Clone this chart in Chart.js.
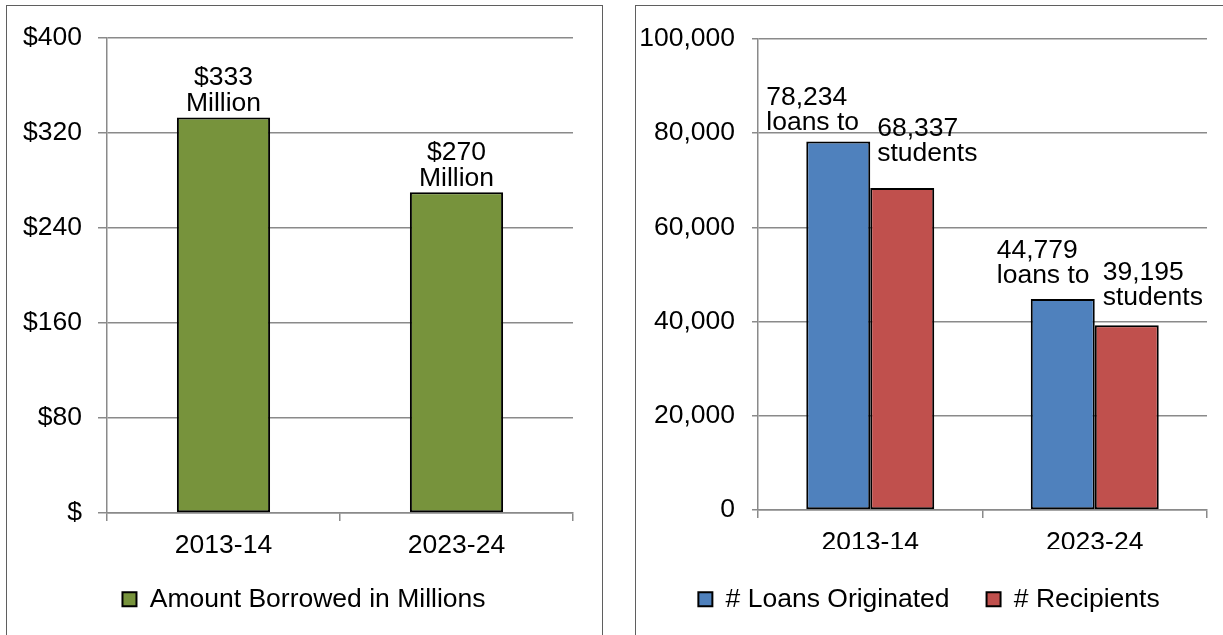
<!DOCTYPE html>
<html><head><meta charset="utf-8">
<script src="https://cdn.jsdelivr.net/npm/chart.js@4.4.1/dist/chart.umd.min.js"></script>
<style>
html,body{margin:0;padding:0;background:#fff;width:1223px;height:635px;overflow:hidden;}
.frame{position:absolute;border:1px solid #5f5f5f;box-sizing:border-box;}
canvas{position:absolute;}
</style></head><body>
<div class="frame" style="left:6px;top:5px;width:597px;height:700px;"></div>
<div class="frame" style="left:635px;top:5px;width:700px;height:700px;"></div>
<canvas id="c1" width="594" height="629" style="left:7px;top:6px;width:594px;height:629px"></canvas>
<canvas id="c2" width="586" height="629" style="left:636px;top:6px;width:586px;height:629px"></canvas>
<script>
// ---- data ----
const categories = ['2013-14', '2023-24'];
const amountBorrowed = [333, 270];
const loansOriginated = [78234, 44779];
const recipients = [68337, 39195];
const amountTicks = ['$', '$80', '$160', '$240', '$320', '$400'];
const countTicks = ['0', '20,000', '40,000', '60,000', '80,000', '100,000'];
const amountSeriesName = 'Amount Borrowed in Millions';
const loansSeriesName = '# Loans Originated';
const recipientsSeriesName = '# Recipients';
const loansWord = 'loans to';
const studentsWord = 'students';
const millionWord = 'Million';

// ---- styles / layout ----
const FONT = 'Liberation Sans, Arial, sans-serif';
const FS = 26.5;
const GREEN = '#77933C', BLUE = '#4F81BD', RED = '#C0504D';
const GRID = '#8a8a8a';
// label nudges: [dx from bar left, baseline of last line above bar top]
const loansNudge = [[-40, 11], [-34, 16]];
const recipNudge = [[7, 27], [8, 20]];

Chart.defaults.font.family = FONT;
Chart.defaults.font.size = FS;
Chart.defaults.color = '#000';
Chart.defaults.animation = false;

const barLabels = {
  id: 'barLabels',
  afterDatasetsDraw(chart, args, opts) {
    const ctx = chart.ctx;
    ctx.save();
    ctx.font = FS + 'px ' + FONT;
    ctx.fillStyle = '#000';
    ctx.textBaseline = 'alphabetic';
    chart.data.datasets.forEach((ds, di) => {
      const meta = chart.getDatasetMeta(di);
      meta.data.forEach((bar, i) => {
        const lines = opts.lines(di, i, ds.data[i]);
        const p = bar.getProps(['x', 'y', 'width'], true);
        const n = opts.nudge(di, i);
        ctx.textAlign = opts.align;
        const ax = opts.align === 'center' ? p.x + n[0] : p.x - p.width / 2 + n[0];
        let by = p.y - n[1];
        for (let k = lines.length - 1; k >= 0; k--) {
          ctx.fillText(lines[k], ax, by);
          by -= opts.lineGap;
        }
      });
    });
    ctx.restore();
  }
};

function yScale(max, step, labels, width, tickLen, pad) {
  return {
    min: 0, max: max,
    ticks: { stepSize: step, callback: (v, i) => labels[i], padding: pad, color: '#000' },
    grid: { color: GRID, lineWidth: 1.5, tickLength: tickLen },
    border: { color: GRID, width: 1.5 },
    afterFit(s) { s.width = width; }
  };
}
function spacer(width) {
  return {
    type: 'linear', position: 'right', display: true,
    grid: { display: false, drawTicks: false }, border: { display: false },
    ticks: { display: false },
    afterFit(s) { s.width = width; }
  };
}
function xScale(height, pad) {
  return {
    grid: { offset: true, drawOnChartArea: false, tickLength: 8, color: GRID, lineWidth: 1.5 },
    border: { color: GRID, width: 1.5 },
    ticks: { padding: pad, color: '#000' },
    afterFit(s) { s.height = height; }
  };
}

new Chart(document.getElementById('c1'), {
  type: 'bar',
  data: {
    labels: categories,
    datasets: [{
      label: amountSeriesName, data: amountBorrowed,
      backgroundColor: GREEN, borderColor: '#000', borderWidth: 2, borderSkipped: false,
      barPercentage: 0.4, categoryPercentage: 1
    }]
  },
  options: {
    responsive: false,
    layout: { padding: { left: 0, right: 0, top: 28, bottom: 12.5 } },
    scales: { y: yScale(400, 80, amountTicks, 100, 9, 16), yR: spacer(28), x: xScale(55, 9) },
    plugins: {
      legend: { position: 'bottom', labels: { boxWidth: 14, boxHeight: 14, padding: 18, color: '#000' } },
      tooltip: { enabled: false },
      barLabels: {
        align: 'center', lineGap: 26,
        lines: (di, i, v) => ['$' + v, millionWord],
        nudge: (di, i) => [0, 6]
      }
    }
  },
  plugins: [barLabels]
});

new Chart(document.getElementById('c2'), {
  type: 'bar',
  data: {
    labels: categories,
    datasets: [
      { label: loansSeriesName, data: loansOriginated, backgroundColor: BLUE, borderColor: '#000',
        borderWidth: 2, borderSkipped: false, barPercentage: 1, categoryPercentage: 0.57 },
      { label: recipientsSeriesName, data: recipients, backgroundColor: RED, borderColor: '#000',
        borderWidth: 2, borderSkipped: false, barPercentage: 1, categoryPercentage: 0.57 }
    ]
  },
  options: {
    responsive: false,
    layout: { padding: { left: 0, right: 0, top: 26, bottom: 12.5 } },
    scales: { y: yScale(100000, 20000, countTicks, 122, 6, 17), yR: spacer(15), x: xScale(39, 9) },
    plugins: {
      legend: { position: 'bottom', labels: { boxWidth: 14, boxHeight: 14, padding: 37, color: '#000' } },
      tooltip: { enabled: false },
      barLabels: {
        align: 'left', lineGap: 25,
        lines: (di, i, v) => [v.toLocaleString('en-US'), di === 0 ? loansWord : studentsWord],
        nudge: (di, i) => (di === 0 ? loansNudge[i] : recipNudge[i])
      }
    }
  },
  plugins: [barLabels]
});
</script>
</body></html>
